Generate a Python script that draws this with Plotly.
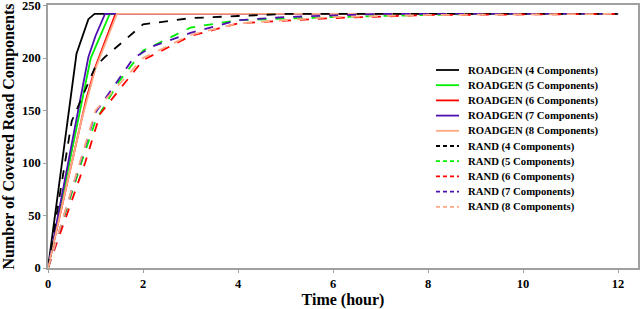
import plotly.graph_objects as go

# ROADGEN series (time in hours, covered components)
rg4_t = [0, 0.6, 0.85, 0.98, 12]
rg4_v = [0, 204, 237, 242, 242]
rg5_t = [0, 0.9, 1.3, 12]
rg5_v = [0, 200, 242, 242]
rg6_t = [0, 0.8, 1.0, 1.42, 12]
rg6_v = [0, 160, 192, 242, 242]
rg7_t = [0, 0.85, 1.0, 1.2, 12]
rg7_v = [0, 201, 221, 242, 242]
rg8_t = [0, 0.7, 1.0, 1.45, 12]
rg8_v = [0, 140, 190, 242, 242]

# RAND series
rd4_t = [0, 0.5, 1.0, 1.2, 2, 3, 4, 5, 12]
rd4_v = [0, 140, 192, 201, 232, 238, 240, 242, 242]
rd5_t = [0, 0.7, 1.0, 1.5, 2, 3, 4, 6, 9, 12]
rd5_v = [0, 100, 140, 178, 207, 229, 236, 239, 242, 242]
rd6_t = [0, 0.78, 1.1, 2, 3, 4, 6, 8, 12]
rd6_v = [0, 100, 147, 198, 221, 233, 238, 241, 242]
rd7_t = [0, 1.0, 1.8, 2.2, 3, 4, 5, 7, 12]
rd7_v = [0, 148, 200, 211, 224, 236, 239, 242, 242]
rd8_t = [0, 1.0, 2, 3, 4, 6, 8, 12]
rd8_v = [0, 150, 200, 222, 233, 239, 241, 242]

x_ticks = [0, 2, 4, 6, 8, 10, 12]
y_ticks = [0, 50, 100, 150, 200, 250]

names = ["4 Components", "5 Components", "6 Components", "7 Components", "8 Components"]
colors = ["#000000", "#00ee00", "#ff0000", "#5010b0", "#ffa882"]

rg = [(rg4_t, rg4_v), (rg5_t, rg5_v), (rg6_t, rg6_v), (rg7_t, rg7_v), (rg8_t, rg8_v)]
rd = [(rd4_t, rd4_v), (rd5_t, rd5_v), (rd6_t, rd6_v), (rd7_t, rd7_v), (rd8_t, rd8_v)]

font_fam = "Liberation Serif, Times New Roman, serif"

fig = go.Figure()
entries = []
for (t, v), n, c in zip(rg, names, colors):
    nm = f"ROADGEN ({n})"
    fig.add_trace(go.Scatter(x=t, y=v, mode="lines", name=nm,
                             line=dict(color=c, width=1.8)))
    entries.append((nm, c, "solid"))
for (t, v), n, c in zip(rd, names, colors):
    nm = f"RAND ({n})"
    fig.add_trace(go.Scatter(x=t, y=v, mode="lines", name=nm,
                             line=dict(color=c, width=1.8, dash="dash")))
    entries.append((nm, c, "dash"))

# compact legend drawn inside the axes (matches the tight row spacing of the original)
W, H = 640, 309
ml, mr, mt, mb = 48, 2, 5, 41
pw, ph = W - ml - mr, H - mt - mb
def px(xp):
    return (xp - ml) / pw
def py(yp):
    return (H - mb - yp) / ph

shapes = []
annotations = []
for i, (nm, c, d) in enumerate(entries):
    yc = 70 + 15.2 * i
    shapes.append(dict(type="line", xref="paper", yref="paper",
                       x0=px(436), x1=px(459), y0=py(yc), y1=py(yc),
                       line=dict(color=c, width=1.8, dash="4px,3px" if d == "dash" else "solid")))
    annotations.append(dict(xref="paper", yref="paper", x=px(466), y=py(yc),
                            xanchor="left", yanchor="middle", showarrow=False, text=nm,
                            font=dict(family=font_fam, size=10.7, color="black", weight="bold")))

fig.update_layout(
    width=W, height=H,
    margin=dict(l=ml, r=mr, t=mt, b=mb),
    paper_bgcolor="white", plot_bgcolor="white",
    font=dict(family=font_fam, color="black"),
    showlegend=False,
    shapes=shapes,
    annotations=annotations,
    xaxis=dict(range=[0, 12.42], tickvals=x_ticks, ticktext=[str(v) for v in x_ticks],
               showgrid=False, zeroline=False, showline=True, mirror=True, automargin=False,
               linecolor="#a0a0a0", linewidth=1.5, ticks="outside", ticklen=3,
               tickcolor="#a0a0a0", ticklabeloverflow="allow",
               tickfont=dict(family=font_fam, size=12.5, weight="bold"),
               title=dict(text="Time (hour)", font=dict(family=font_fam, size=16, weight="bold"),
                          standoff=6)),
    yaxis=dict(range=[0, 250.5], tickvals=y_ticks, ticktext=[str(v) for v in y_ticks],
               showgrid=False, zeroline=False, showline=True, mirror=True, automargin=False,
               linecolor="#a0a0a0", linewidth=1.5, ticks="outside", ticklen=3,
               tickcolor="#a0a0a0", ticklabeloverflow="allow",
               tickfont=dict(family=font_fam, size=12.5, weight="bold"),
               title=dict(text="Number of Covered Road Components",
                          font=dict(family=font_fam, size=16, weight="bold"), standoff=4)),
)

fig.write_html("out.html", config={"displayModeBar": False},
               post_script="document.body.style.margin='0';document.body.style.overflow='hidden';")
